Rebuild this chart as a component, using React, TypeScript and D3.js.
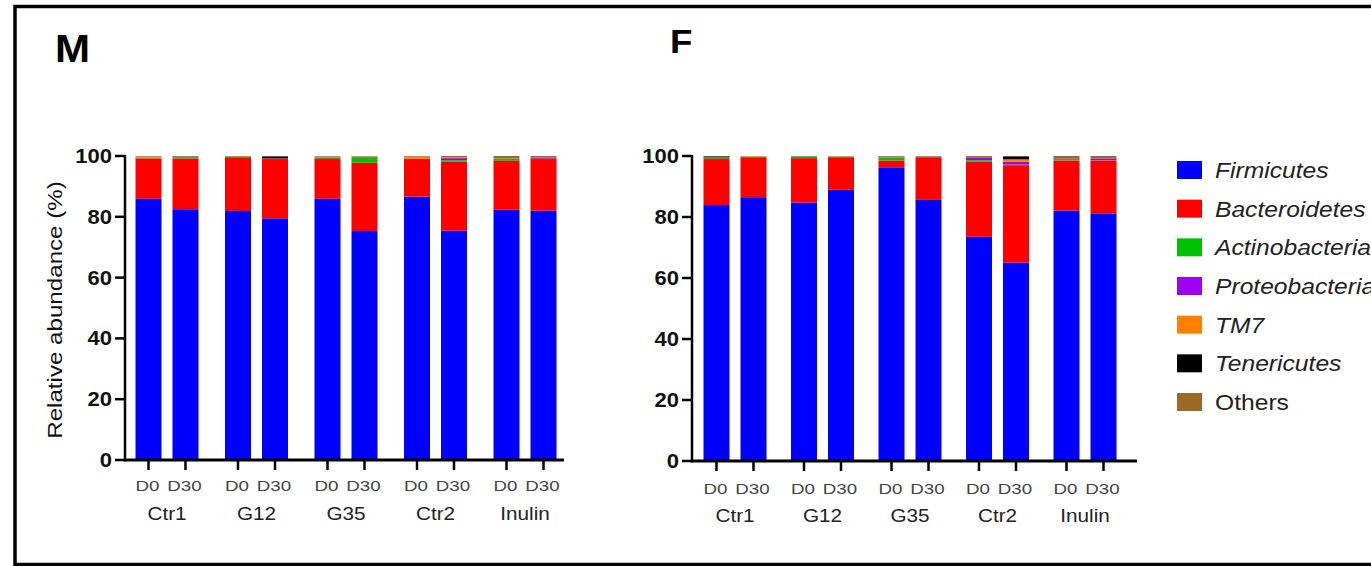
import React from "react";
import * as d3 from "d3";

const seriesNames = ["Firmicutes", "Bacteroidetes", "Actinobacteria", "Proteobacteria", "TM7", "Tenericutes", "Others"];
const seriesColors = ["#0000FF", "#FF0000", "#00C000", "#A000F0", "#FF8000", "#000000", "#9C6A26"];
const seriesItalic = [true, true, true, true, true, true, false];

const groups = ["Ctr1", "G12", "G35", "Ctr2", "Inulin"];
const timepoints = ["D0", "D30"];
const yTicks = [0, 20, 40, 60, 80, 100];

// Male panel (M), one value per bar: Ctr1 D0, Ctr1 D30, G12 D0, ... Inulin D30
const mFirmicutes = [85.9, 82.5, 81.9, 79.5, 85.9, 75.3, 86.6, 75.4, 82.3, 82.0];
const mBacteroidetes = [13.3, 16.7, 17.7, 19.5, 13.1, 22.5, 12.4, 22.7, 16.1, 17.0];
const mActinobacteria = [0.2, 0.4, 0.3, 0.1, 0.5, 1.8, 0.1, 0.5, 0.6, 0.1];
const mProteobacteria = [0.1, 0.1, 0.0, 0.1, 0.1, 0.1, 0.1, 0.7, 0.1, 0.4];
const mTM7 = [0.3, 0.0, 0.05, 0.0, 0.2, 0.2, 0.6, 0.3, 0.1, 0.0];
const mTenericutes = [0.0, 0.1, 0.0, 0.7, 0.0, 0.0, 0.0, 0.0, 0.0, 0.0];
const mOthers = [0.2, 0.2, 0.05, 0.1, 0.2, 0.1, 0.2, 0.4, 0.8, 0.5];

// Female panel (F)
const fFirmicutes = [83.9, 86.5, 84.7, 88.9, 96.3, 85.6, 73.5, 65.0, 82.1, 81.2];
const fBacteroidetes = [15.1, 13.1, 14.6, 10.7, 2.2, 14.0, 24.6, 32.0, 16.4, 17.3];
const fActinobacteria = [0.5, 0.2, 0.5, 0.2, 1.0, 0.1, 0.5, 0.2, 0.3, 0.1];
const fProteobacteria = [0.1, 0.0, 0.1, 0.0, 0.1, 0.1, 0.8, 0.9, 0.2, 0.6];
const fTM7 = [0.0, 0.15, 0.0, 0.1, 0.1, 0.1, 0.1, 0.8, 0.0, 0.0];
const fTenericutes = [0.3, 0.0, 0.0, 0.0, 0.1, 0.05, 0.1, 1.0, 0.1, 0.0];
const fOthers = [0.1, 0.05, 0.1, 0.1, 0.2, 0.05, 0.4, 0.1, 0.9, 0.8];

const FONT = "'Liberation Sans', Arial, sans-serif";

type PanelProps = {
  title: string;
  titleX: number;
  titleY: number;
  titleSize: number;
  series: number[][];
  axisX: number;
  axisEnd: number;
  y0: number;
  y100: number;
  groupStart: number;
  groupEnd: number;
  showYLabel: boolean;
  tpY: number;
  grpY: number;
};

function Panel(p: PanelProps) {
  const y = d3.scaleLinear().domain([0, 100]).range([p.y0, p.y100]);
  const gx = d3.scalePoint<string>().domain(groups).range([p.groupStart, p.groupEnd]);
  const inner = d3.scalePoint<string>().domain(timepoints).range([-18.5, 18.5]);
  const barW = 26;

  const rows = groups.flatMap((g, gi) =>
    timepoints.map((t, ti) => {
      const idx = gi * 2 + ti;
      const row: any = { key: g + "_" + t, g, t };
      seriesNames.forEach((s, si) => (row[s] = p.series[si][idx]));
      return row;
    })
  );
  const stacked = d3.stack<any>().keys(seriesNames)(rows);

  return (
    <g>
      <text
        transform={`translate(${p.titleX}, ${p.titleY}) scale(1.08, 1)`}
        fontFamily={FONT}
        fontWeight="bold"
        fontSize={p.titleSize}
        fill="#000"
      >
        {p.title}
      </text>
      {stacked.map((layer, li) => (
        <g key={layer.key} fill={seriesColors[li]}>
          {layer.map((d: any, i: number) => {
            const r = rows[i];
            const cx = (gx(r.g) as number) + (inner(r.t) as number);
            const top = y(d[1]);
            const h = y(d[0]) - top;
            if (h <= 0) return null;
            return <rect key={i} x={cx - barW / 2} y={top} width={barW} height={h} />;
          })}
        </g>
      ))}
      {/* y axis */}
      <line x1={p.axisX} x2={p.axisX} y1={y(100) - 1} y2={y(0) + 1.25} stroke="#000" strokeWidth={2.5} />
      {yTicks.map((t) => (
        <g key={t}>
          <line x1={p.axisX - 10} x2={p.axisX} y1={y(t)} y2={y(t)} stroke="#000" strokeWidth={2.5} />
          <text
            transform={`translate(${p.axisX - 13}, ${y(t) + 7}) scale(1.1, 1)`}
            textAnchor="end"
            fontFamily={FONT}
            fontWeight="bold"
            fontSize={20}
            fill="#111"
          >
            {t}
          </text>
        </g>
      ))}
      {/* x axis */}
      <line x1={p.axisX - 1.25} x2={p.axisEnd} y1={y(0)} y2={y(0)} stroke="#000" strokeWidth={3} />
      {rows.map((r, i) => {
        const cx = (gx(r.g) as number) + (inner(r.t) as number);
        return (
          <g key={"xt" + i}>
            <line x1={cx} x2={cx} y1={y(0)} y2={y(0) + 10} stroke="#000" strokeWidth={2.5} />
            <text
              transform={`translate(${cx - 1}, ${p.tpY}) scale(1.25, 1)`}
              textAnchor="middle"
              fontFamily={FONT}
              fontSize={15}
              fill="#444"
            >
              {r.t}
            </text>
          </g>
        );
      })}
      {groups.map((g) => (
        <text
          key={g}
          transform={`translate(${gx(g) as number}, ${p.grpY}) scale(1.15, 1)`}
          textAnchor="middle"
          fontFamily={FONT}
          fontSize={18}
          fill="#222"
        >
          {g}
        </text>
      ))}
      {p.showYLabel && (
        <text
          transform={`translate(62, ${(p.y0 + p.y100) / 2 + 2}) rotate(-90) scale(1.15, 1)`}
          textAnchor="middle"
          fontFamily={FONT}
          fontSize={21}
          fill="#111"
        >
          Relative abundance (%)
        </text>
      )}
    </g>
  );
}

export default function App() {
  const mSeries = [mFirmicutes, mBacteroidetes, mActinobacteria, mProteobacteria, mTM7, mTenericutes, mOthers];
  const fSeries = [fFirmicutes, fBacteroidetes, fActinobacteria, fProteobacteria, fTM7, fTenericutes, fOthers];
  const legendY = d3.scalePoint<string>().domain(seriesNames).range([170, 402]);
  return (
    <div style={{ position: "absolute", left: 0, top: 0 }}>
      <svg width={1371} height={566} style={{ display: "block", background: "#fff" }}>
        <rect x={15} y={6.5} width={1420} height={558} fill="#fff" stroke="#000" strokeWidth={3.5} />
        <Panel
          title="M"
          titleX={55}
          titleY={62}
          titleSize={39}
          series={mSeries}
          axisX={125}
          axisEnd={564}
          y0={460}
          y100={156}
          groupStart={167}
          groupEnd={525}
          showYLabel={true}
          tpY={491}
          grpY={520}
        />
        <Panel
          title="F"
          titleX={670}
          titleY={53}
          titleSize={34}
          series={fSeries}
          axisX={692}
          axisEnd={1137}
          y0={461}
          y100={156}
          groupStart={735}
          groupEnd={1085}
          showYLabel={false}
          tpY={494}
          grpY={522}
        />
        {seriesNames.map((s, i) => {
          const cy = legendY(s) as number;
          return (
            <g key={s}>
              <rect x={1177} y={cy - 9} width={25} height={18} fill={seriesColors[i]} />
              <text
                transform={`translate(1215, ${cy + 8}) scale(1.12, 1)`}
                fontFamily={FONT}
                fontSize={22}
                fontStyle={seriesItalic[i] ? "italic" : "normal"}
                fill="#222"
              >
                {s}
              </text>
            </g>
          );
        })}
      </svg>
    </div>
  );
}
